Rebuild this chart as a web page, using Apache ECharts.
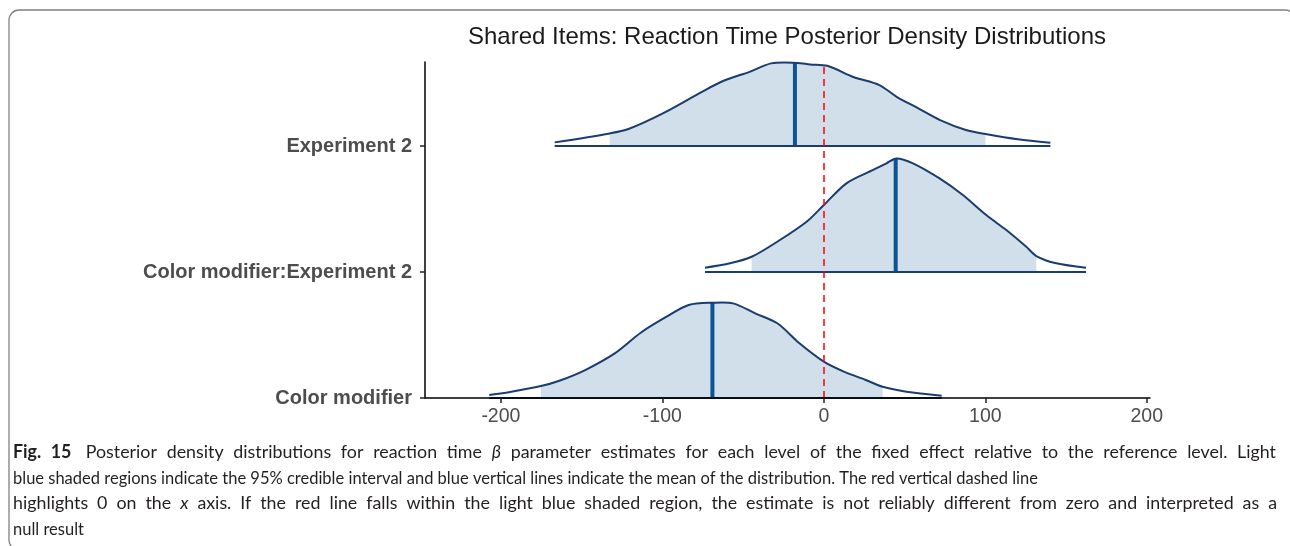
<!DOCTYPE html>
<html><head><meta charset="utf-8">
<script src="https://cdn.jsdelivr.net/npm/echarts@6/dist/echarts.min.js"></script>
<style>html,body{margin:0;padding:0;background:#fff}#c{width:1290px;height:546px}</style>
</head><body><div id="c"></div>
<script>
// ---------- data ----------
const categories = ['Color modifier', 'Color modifier:Experiment 2', 'Experiment 2'];
const xTicks = [-200, -100, 0, 100, 200];
const titleText = 'Shared Items: Reaction Time Posterior Density Distributions';

// Color modifier density (x, height in row units)
const cmX = [-207.2,-193.5,-175.2,-163.8,-147.8,-129.5,-113.4,-97.4,-83.7,-68.9,-56.3,-42.5,-28.8,-15.1,0,12.4,26,36.4,51.2,73];
const cmH = [0.024,0.05,0.095,0.137,0.222,0.354,0.518,0.645,0.738,0.756,0.751,0.672,0.593,0.434,0.288,0.209,0.143,0.089,0.05,0.018];
// Color modifier:Experiment 2 density
const cme2X = [-73.6,-58.1,-44.7,-27.2,-10.7,0,14,30.5,38.8,45,55.2,71.7,86.1,100.6,113,125.4,131.6,144,162.4];
const cme2H = [0.034,0.069,0.121,0.254,0.399,0.532,0.704,0.81,0.863,0.902,0.863,0.743,0.611,0.452,0.333,0.2,0.127,0.069,0.034];
// Experiment 2 density
const e2X = [-166.7,-132.6,-121,-99.7,-75.5,-62.1,-46,-32.6,-16.5,-8.5,2.2,18.3,34.4,45.1,58.5,72,88,100.1,120.2,140.3];
const e2H = [0.029,0.10,0.135,0.259,0.43,0.518,0.589,0.656,0.66,0.648,0.637,0.548,0.484,0.391,0.299,0.206,0.127,0.095,0.053,0.026];

const means = [-69, 44.5, -17.9];
const ciLow = [-175.2, -44.7, -132.6];
const ciHigh = [36.4, 131.6, 100.1];

const captionLines = [
  [['b','Fig. 15'],['n','  Posterior density distributions for reaction time '],['i','β'],['n',' parameter estimates for each level of the fixed effect relative to the reference level. Light']],
  [['n','blue shaded regions indicate the 95% credible interval and blue vertical lines indicate the mean of the distribution. The red vertical dashed line']],
  [['n','highlights 0 on the '],['i','x'],['n',' axis. If the red line falls within the light blue shaded region, the estimate is not reliably different from zero and interpreted as a']],
  [['n','null result']]
];

// ---------- styles ----------
const FILL = '#d0dfea', LINE = '#1a3c6e', MEAN = '#0c5494';
const CAP_FONT = 'Lato', CAP_SIZE = 18, CAP_COLOR = '#231f20';

function interp(xs, ys, x) {
  if (x <= xs[0]) return ys[0];
  for (let i = 1; i < xs.length; i++) {
    if (x <= xs[i]) { const t = (x - xs[i-1]) / (xs[i] - xs[i-1]); return ys[i-1] + t * (ys[i] - ys[i-1]); }
  }
  return ys[ys.length - 1];
}

function ridge(idx, xs, hs) {
  const base = idx + 1, lo = ciLow[idx], hi = ciHigh[idx], mean = means[idx];
  return {
    type: 'custom', coordinateSystem: 'cartesian2d', data: [[mean, base]], clip: false, silent: true, z: 3,
    renderItem: function (params, api) {
      const P = (x, h) => api.coord([x, base + h]);
      const fillPts = [P(lo, 0), P(lo, interp(xs, hs, lo))];
      xs.forEach((x, i) => { if (x > lo && x < hi) fillPts.push(P(x, hs[i])); });
      fillPts.push(P(hi, interp(xs, hs, hi)), P(hi, 0));
      const curve = xs.map((x, i) => P(x, hs[i]));
      const m0 = P(mean, 0), m1 = P(mean, interp(xs, hs, mean));
      const b0 = P(xs[0], 0), b1 = P(xs[xs.length - 1], 0);
      return { type: 'group', children: [
        { type: 'polygon', shape: { points: fillPts }, style: { fill: FILL } },
        { type: 'line', shape: { x1: m0[0], y1: m0[1], x2: m1[0], y2: m1[1] }, style: { stroke: MEAN, lineWidth: 4 } },
        { type: 'polyline', shape: { points: curve, smooth: 0.3 }, style: { stroke: LINE, lineWidth: 2, fill: null } },
        { type: 'line', shape: { x1: b0[0], y1: b0[1], x2: b1[0], y2: b1[1] }, style: { stroke: LINE, lineWidth: 2 } }
      ]};
    }
  };
}

// caption: glyph scale per line; justified lines get extra word spacing
const mctx = document.createElement('canvas').getContext('2d');
const fontOf = k => (k === 'i' ? 'italic ' : 'normal ') + (k === 'b' ? 'bold ' : 'normal ') + CAP_SIZE + 'px ' + CAP_FONT;
function tokW(k, t) { mctx.font = fontOf(k); return mctx.measureText(t).width; }
function segs(line) { const out = []; line.forEach(([k, t]) => t.split(/( +)/).forEach(s => { if (s) out.push([k, s]); })); return out; }
const capTargets = [1263, 1025, 1264, null];
const capJustify = [true, false, true, false];
const capGlyph = [1.08, 1, 1.08, 1];
const capY = [452, 478, 503, 529];
const baseScale = capTargets[1] / segs(captionLines[1]).reduce((s, [k, t]) => s + tokW(k, t), 0);
const captionGraphics = [];
captionLines.forEach((line, i) => {
  const S = segs(line);
  const sc = baseScale * capGlyph[i];
  const nat = S.reduce((s, [k, t]) => s + tokW(k, t) * sc, 0);
  const nSp = S.filter(([k, t]) => /^ +$/.test(t)).length;
  const extra = capJustify[i] ? (capTargets[i] - nat) / nSp : 0;
  let off = 0;
  S.forEach(([k, t]) => {
    const w = tokW(k, t) * sc;
    if (/^ +$/.test(t)) { off += w + extra; return; }
    captionGraphics.push({ type: 'text', x: 13 + off, y: capY[i], scaleX: sc, scaleY: 1, silent: true,
      style: { text: t, x: 0, y: 0, fontSize: CAP_SIZE, fontFamily: CAP_FONT,
        fontWeight: k === 'b' ? 'bold' : 'normal', fontStyle: k === 'i' ? 'italic' : 'normal',
        fill: CAP_COLOR, verticalAlign: 'middle', textVerticalAlign: 'middle', align: 'left' } });
    off += w;
  });
});

const chart = echarts.init(document.getElementById('c'), null, { renderer: 'canvas' });
chart.setOption({
  backgroundColor: '#fff',
  animation: false,
  grid: { left: 425, right: 140, top: 62, bottom: 148, containLabel: false },
  xAxis: {
    type: 'value', min: -247, max: 202, z: 5,
    axisLine: { show: true, onZero: false, lineStyle: { color: '#000', width: 1.5 } },
    axisTick: { show: true, length: 5, lineStyle: { color: '#222', width: 1.5 }, customValues: xTicks },
    axisLabel: { customValues: xTicks, margin: 9, fontSize: 19.5, color: '#4d4d4d', fontFamily: 'Liberation Sans, Arial' },
    splitLine: { show: false }
  },
  yAxis: {
    type: 'value', min: 1, max: 3.667, z: 5,
    axisLine: { show: true, onZero: false, lineStyle: { color: '#000', width: 1.5 } },
    axisTick: { show: true, length: 5, lineStyle: { color: '#222', width: 1.5 }, customValues: [1, 2, 3] },
    axisLabel: { customValues: [1, 2, 3], margin: 13, fontSize: 20, fontWeight: 'bold', color: '#4d4d4d', fontFamily: 'Liberation Sans, Arial',
      formatter: v => categories[Math.round(v) - 1] || '' },
    splitLine: { show: false }
  },
  graphic: [
    { type: 'rect', silent: true, shape: { x: 9, y: 10, width: 1286, height: 540, r: 10 }, style: { fill: null, stroke: '#808080', lineWidth: 1.3 } },
    { type: 'text', silent: true, x: 787, y: 37, style: { text: titleText, fontSize: 24, fontFamily: 'Liberation Sans, Arial', fill: '#1a1a1a', align: 'center', verticalAlign: 'middle', textAlign: 'center', textVerticalAlign: 'middle' } }
  ].concat(captionGraphics),
  series: [
    ridge(0, cmX, cmH),
    ridge(1, cme2X, cme2H),
    ridge(2, e2X, e2H),
    { type: 'line', data: [], z: 10, silent: true,
      markLine: { silent: true, symbol: ['none', 'none'], label: { show: false },
        lineStyle: { color: '#ff0000', type: [7, 5], width: 1.5 }, data: [{ xAxis: 0 }] } }
  ]
});
</script>
</body></html>
